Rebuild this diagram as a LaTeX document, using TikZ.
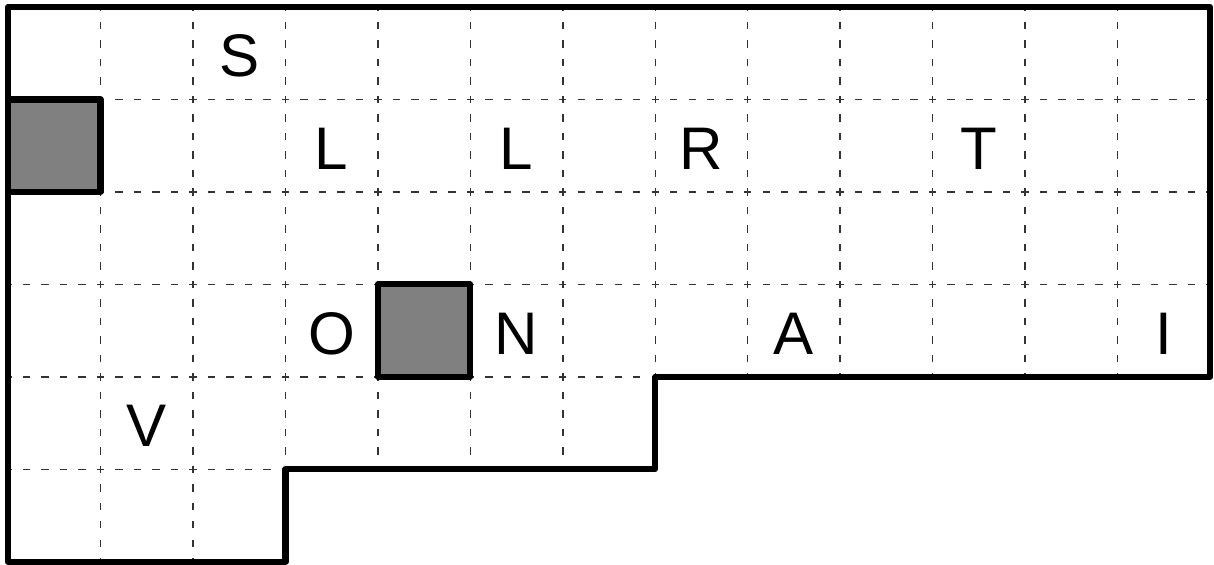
\documentclass[tikz,border=0pt]{standalone}
\usepackage{fontspec}
\setmainfont{Liberation Sans}
\begin{document}
\begin{tikzpicture}[x=1cm,y=1cm,
  gridline/.style={draw=black!80,line width=0.45pt,dash pattern=on 0.08cm off 0.12cm,dash phase=0.04cm},
  outline/.style={draw=black,line width=1.9pt,line join=round},
  block/.style={fill=gray,draw=black,line width=1.9pt,line join=round},
  letter/.style={inner sep=0pt,font=\fontsize{18.5}{20}\selectfont,yshift=-0.03cm}]
\useasboundingbox (-0.087,-0.03) rectangle (13.043,6.076);
\begin{scope}
  \clip (0,6) -- (13,6) -- (13,2) -- (7,2) -- (7,1) -- (3,1) -- (3,0) -- (0,0) -- cycle;
  \foreach \i in {1,...,12} \draw[gridline] (\i,0) -- (\i,6);
  \foreach \j in {1,...,5} \draw[gridline] (0,\j) -- (13,\j);
\end{scope}
\draw[block] (0,4) rectangle (1,5);
\draw[block] (4,2) rectangle (5,3);
\draw[outline] (0,6) -- (13,6) -- (13,2) -- (7,2) -- (7,1) -- (3,1) -- (3,0) -- (0,0) -- cycle;
\node[letter] (s) at (2.5,5.5) {S};
\node[letter] (l1) at (3.5,4.5) {L};
\node[letter] (l2) at (5.5,4.5) {L};
\node[letter] (r) at (7.5,4.5) {R};
\node[letter] (t) at (10.5,4.5) {T};
\node[letter] (o) at (3.5,2.5) {O};
\node[letter] (n) at (5.5,2.5) {N};
\node[letter] (a) at (8.5,2.5) {A};
\node[letter] (i) at (12.5,2.5) {I};
\node[letter] (v) at (1.5,1.5) {V};
\end{tikzpicture}
\end{document}
